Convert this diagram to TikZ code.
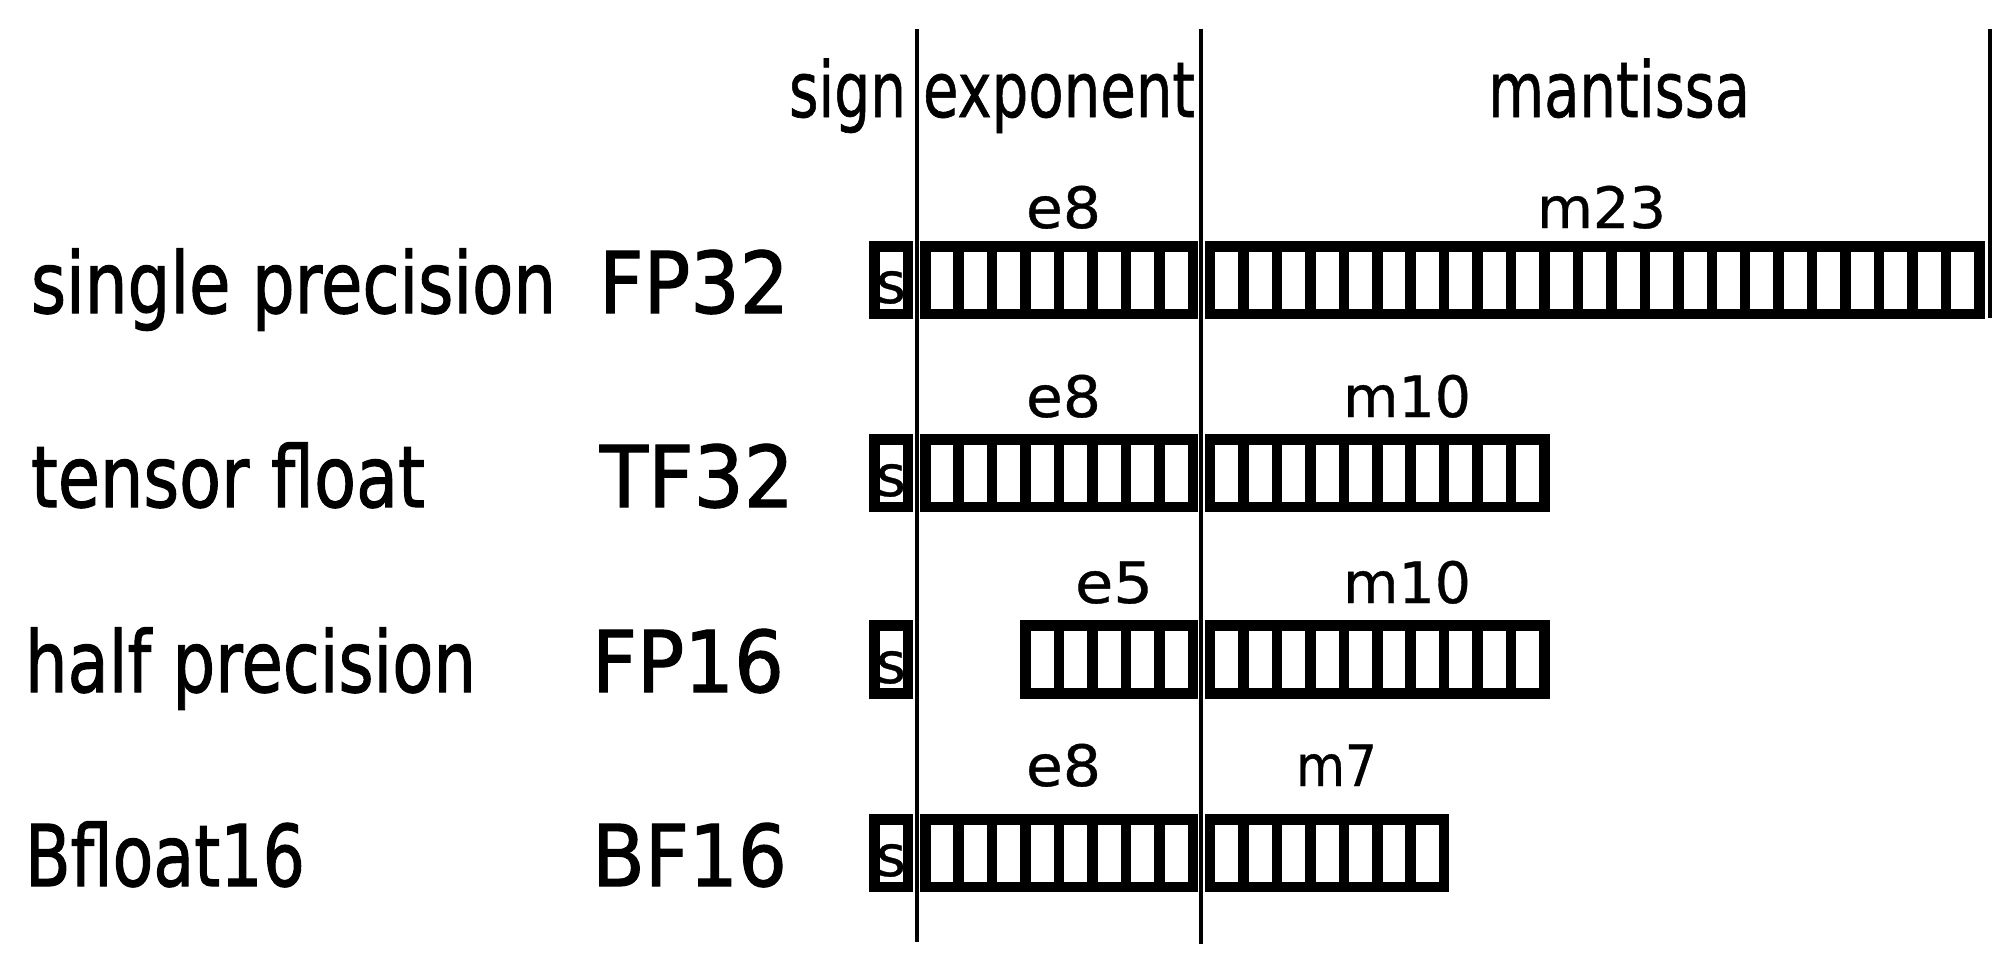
\documentclass[tikz,border=0pt]{standalone}
\usepackage{fontspec}
\setmainfont{DejaVu Sans}
\newfontfamily\rowfont[FakeBold=1.4]{DejaVu Sans}
\newfontfamily\headfont[FakeBold=0.9]{DejaVu Sans}
\newfontfamily\bitfont[FakeBold=0.6]{DejaVu Sans}
\newlength\pxu \setlength\pxu{0.01cm}
\newcommand\fitw[2]{\resizebox{#1\pxu}{\height}{#2}}
\tikzset{
  cellline/.style={draw=black, line width=2.99pt},
  divider/.style={draw=black, line width=1.25pt},
  headtxt/.style={inner sep=0pt, anchor=base, font=\headfont\fontsize{21.9pt}{26pt}\selectfont},
  rowtxt/.style={inner sep=0pt, anchor=base, font=\rowfont\fontsize{24.2pt}{29pt}\selectfont},
  bittxt/.style={inner sep=0pt, anchor=base, font=\bitfont\fontsize{16.2pt}{19pt}\selectfont},
}
% \bitrow{x0}{ytop}{n}{pitch}
\newcommand\bitrow[4]{%
  \draw[cellline] (#1,#2) rectangle ({#1+#3*#4},{#2+67.75});
  \foreach \k in {1,...,#3}{\draw[cellline] ({#1+\k*#4},#2) -- ({#1+\k*#4},{#2+67.75});}%
}
\begin{document}
\begin{tikzpicture}[x=0.01cm,y=-0.01cm]
\useasboundingbox (0,0) rectangle (2013,963);
% header
\node[headtxt] (hsign) at (847.5,117) {\fitw{117}{sign}};
\node[headtxt] (hexp) at (1059,117) {\fitw{272}{exponent}};
\node[headtxt] (hman) at (1619,117) {\fitw{262}{mantissa}};
% separators
\draw[divider] (917,29) -- (917,942);
\draw[divider] (1201,29) -- (1201,944);
\draw[divider] (1990,29) -- (1990,318);
% rows: left labels
\node[rowtxt] (l1) at (293.5,313) {\fitw{525}{single precision}};
\node[rowtxt] (f1) at (694,313) {\fitw{190}{FP32}};
\node[rowtxt] (l2) at (228,507) {\fitw{394}{tensor float}};
\node[rowtxt] (f2) at (697,507) {\fitw{194}{TF32}};
\node[rowtxt] (l3) at (250.5,692) {\fitw{451}{half precision}};
\node[rowtxt] (f3) at (688,692) {\fitw{192}{FP16}};
\node[rowtxt] (l4) at (165,886) {\fitw{280}{Bfloat16}};
\node[rowtxt] (f4) at (689.5,886) {\fitw{195}{BF16}};
% bit labels
\node[bittxt] (e1) at (1063.5,228) {\fitw{75}{e8}};
\node[bittxt] (m1) at (1601.5,228) {\fitw{129}{m23}};
\node[bittxt] (e2) at (1063.5,417) {\fitw{75}{e8}};
\node[bittxt] (m2) at (1407,417) {\fitw{128}{m10}};
\node[bittxt] (e3) at (1114,603) {\fitw{78}{e5}};
\node[bittxt] (m3) at (1407,603) {\fitw{128}{m10}};
\node[bittxt] (e4) at (1063.5,786) {\fitw{75}{e8}};
\node[bittxt] (m4) at (1336.5,786) {\fitw{81}{m7}};
% row 1
\bitrow{874.5}{246.25}{1}{33.5}
\bitrow{925.25}{246.25}{8}{33.44}
\bitrow{1210}{246.25}{23}{33.45}
% row 2
\bitrow{874.5}{439.25}{1}{33.5}
\bitrow{925.25}{439.25}{8}{33.44}
\bitrow{1210}{439.25}{10}{33.45}
% row 3
\bitrow{874.5}{625.5}{1}{33.5}
\bitrow{1025.57}{625.5}{5}{33.44}
\bitrow{1210}{625.5}{10}{33.45}
% row 4
\bitrow{874.5}{819.25}{1}{33.5}
\bitrow{925.25}{819.25}{8}{33.44}
\bitrow{1210}{819.25}{7}{33.45}
% sign letters
\node[bittxt] (s1) at (891,303) {s};
\node[bittxt] (s2) at (891,496) {s};
\node[bittxt] (s3) at (891,683) {s};
\node[bittxt] (s4) at (891,876) {s};
\end{tikzpicture}
\end{document}
